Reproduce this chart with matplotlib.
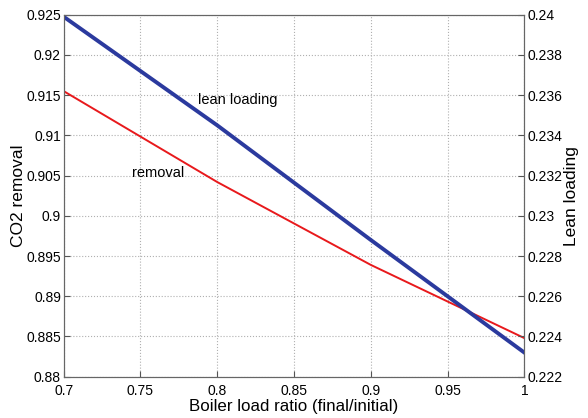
import matplotlib.pyplot as plt
import matplotlib.ticker as mticker
import numpy as np

plt.rcParams['font.family'] = ['Liberation Sans', 'DejaVu Sans']

load_ratio = [0.7, 0.8, 0.9, 1.0]
co2_removal = [0.9155, 0.9042, 0.8939, 0.8848]
lean_loading = [0.2399, 0.2345, 0.2288, 0.2232]

fig = plt.figure(figsize=(5.88, 4.18), dpi=100)
ax1 = fig.add_axes([0.1083, 0.0988, 0.7834, 0.866])
ax2 = ax1.twinx()

ax1.plot(load_ratio, co2_removal, color='#e8191c', lw=1.4)
ax2.plot(load_ratio, lean_loading, color='#2b3a9e', lw=2.8)

ax1.set_xlim(0.7, 1.0)
ax1.set_ylim(0.88, 0.925)
ax2.set_ylim(0.222, 0.24)
ax1.set_xticks(np.arange(0.7, 1.001, 0.05))
ax1.set_yticks(np.arange(0.88, 0.9251, 0.005))
ax2.set_yticks(np.arange(0.222, 0.24001, 0.002))

fmt = mticker.FuncFormatter(lambda v, p: '%g' % round(v, 4))
ax1.xaxis.set_major_formatter(fmt)
ax1.yaxis.set_major_formatter(fmt)
ax2.yaxis.set_major_formatter(fmt)

ax1.grid(True, linestyle=':', color='#b0b0b0', lw=0.8)
for ax in (ax1, ax2):
    ax.tick_params(direction='in', labelsize=10, length=4, color='#555555', pad=2)
    for s in ax.spines.values():
        s.set_color('#666666')
ax1.tick_params(axis='x', pad=5)

ax1.set_xlabel('Boiler load ratio (final/initial)', fontsize=12.2, labelpad=1)
ax1.set_ylabel('CO2 removal', fontsize=12.5, labelpad=0)
ax2.set_ylabel('Lean loading', fontsize=12.5, labelpad=1)

ax1.text(0.7875, 0.9139, 'lean loading', fontsize=10.5)
ax1.text(0.7445, 0.9048, 'removal', fontsize=10.5)

fig.savefig('out.png', dpi=100)
